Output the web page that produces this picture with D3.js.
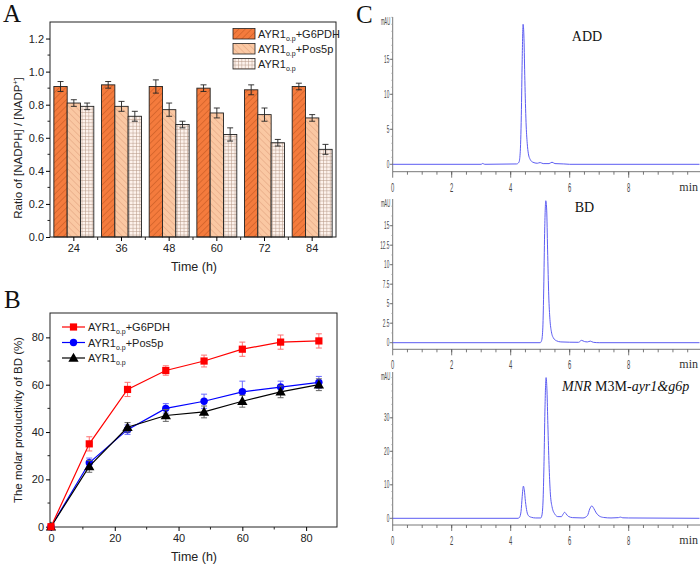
<!DOCTYPE html>
<html><head><meta charset="utf-8">
<script src="https://cdn.jsdelivr.net/npm/d3@7"></script>
<style>body{margin:0;background:#fff}svg{display:block}</style>
</head><body><svg id="c" width="700" height="566" font-family="Liberation Sans, Arial, sans-serif"></svg>
<script>
// ---------- Panel A data ----------
const timesA = ["24","36","48","60","72","84"];
const seriesA = ["G6PDH","Pos5p","AYR1"];
const ratioG6PDH = [0.91,0.92,0.91,0.90,0.89,0.91];
const errG6PDH   = [0.03,0.02,0.04,0.02,0.03,0.02];
const ratioPos5p = [0.81,0.79,0.77,0.75,0.74,0.72];
const errPos5p   = [0.02,0.03,0.04,0.03,0.04,0.02];
const ratioAYR1  = [0.79,0.73,0.68,0.62,0.57,0.53];
const errAYR1    = [0.02,0.03,0.02,0.04,0.02,0.03];
const yTicksA = [0,0.2,0.4,0.6,0.8,1.0,1.2];
const yMinorA = [0.1,0.3,0.5,0.7,0.9,1.1];
const legendA = ["+G6PDH","+Pos5p",""];

// ---------- Panel B data ----------
const timesB = [0,12,24,36,48,60,72,84];
const prodG6PDH = [0,35,58,66,70,75,78,78.5];
const prodErrG6PDH = [0,3,3,2,2.5,3,3,3];
const prodPos5p = [0,27,41,50,53,57,59,61];
const prodErrPos5p = [0,2,2,2,3,4.5,2.5,2.5];
const prodAYR1 = [0,25.5,42,47,48.5,53,57,60];
const prodErrAYR1 = [0,2.5,2,2.5,2.5,2.5,2.5,2.5];
const xTicksB = [0,20,40,60,80];
const xMinorB = [10,30,50,70];
const yTicksB = [0,20,40,60,80];
const yMinorB = [10,30,50,70];

// ---------- Panel C data (retention time min, mAU) ----------
const chromADD = [[0,0],[3.0,0],[3.05,0.12],[3.12,0],[4.2,0.05],[4.28,0.3],[4.32,1.5],[4.36,7],[4.39,15],[4.42,20],[4.45,18],[4.48,12],[4.52,6],[4.56,3],[4.6,1.5],[4.66,0.7],[4.75,0.3],[4.9,0.15],[5.0,0.25],[5.1,0.1],[5.3,0.1],[5.4,0.3],[5.5,0.1],[5.8,0.05],[6.0,0],[10.4,0]];
const chromBD = [[0,0],[5.0,0],[5.05,0.3],[5.09,2],[5.12,7],[5.15,14],[5.19,18.2],[5.22,17],[5.25,12],[5.29,6],[5.33,3],[5.38,1.4],[5.45,0.6],[5.55,0.25],[5.7,0.1],[6.3,0.05],[6.4,0.3],[6.5,0.15],[6.6,0.1],[6.7,0.2],[6.8,0.05],[7.0,0],[10.4,0]];
const chromMNR = [[0,0],[4.25,0],[4.3,0.3],[4.35,2],[4.39,6.5],[4.43,9.6],[4.46,8.5],[4.5,5],[4.55,2],[4.6,0.8],[4.7,0.3],[4.85,0.1],[5.02,0.1],[5.06,1],[5.1,6],[5.13,17],[5.16,32],[5.2,42],[5.23,38],[5.26,28],[5.3,16],[5.34,8],[5.4,3.5],[5.5,1.2],[5.6,0.5],[5.72,0.5],[5.78,1.3],[5.83,1.8],[5.88,1.3],[5.95,0.6],[6.1,0.2],[6.45,0.1],[6.6,0.8],[6.68,2.8],[6.75,3.7],[6.82,2.9],[6.9,1.6],[7.0,0.7],[7.15,0.25],[7.4,0.1],[7.65,0.2],[7.72,0.35],[7.8,0.15],[8.0,0.1],[10.4,0]];
const xTicksC = [0,2,4,6,8];
const yTicksC1 = [0,5,10,15];
const yTicksC2 = [0,2.5,5,7.5,10,12.5,15];
const yTicksC3 = [0,10,20,30];
const chromLabels = ["ADD","BD","MNR"];

const svg = d3.select("#c");
const defs = svg.append("defs");
const serif = "Liberation Serif, Times New Roman, serif";

function hatch(id,bg,stroke,angle,size,sw){
  const p = defs.append("pattern").attr("id",id).attr("patternUnits","userSpaceOnUse")
    .attr("width",size).attr("height",size).attr("patternTransform",`rotate(${angle})`);
  p.append("rect").attr("width",size).attr("height",size).attr("fill",bg);
  p.append("line").attr("x1",0).attr("y1",0).attr("x2",0).attr("y2",size).attr("stroke",stroke).attr("stroke-width",sw);
}
hatch("pG","#F47B3D","#B8501C",45,4.5,0.9);
hatch("pP","#FAC8A3","#D89470",-45,4.5,0.8);
(function(){
  const s=3.4;
  const p = defs.append("pattern").attr("id","pA").attr("patternUnits","userSpaceOnUse").attr("width",s).attr("height",s);
  p.append("rect").attr("width",s).attr("height",s).attr("fill","#FDF2EC");
  p.append("path").attr("d",`M0,0.3H${s}M0.3,0V${s}`).attr("stroke","#B89888").attr("stroke-width",0.6);
})();
const fillsA = ["url(#pG)","url(#pP)","url(#pA)"];

// ================= Panel A =================
const gA = svg.append("g");
const xA = d3.scaleBand().domain(timesA).range([50,336]);
const xAs = d3.scaleBand().domain(seriesA).range([0,xA.bandwidth()]).paddingOuter(0.29);
const yA = d3.scaleLinear().domain([0,1.3]).range([237,22]);
const valsA = [ratioG6PDH,ratioPos5p,ratioAYR1];
const errsA = [errG6PDH,errPos5p,errAYR1];

seriesA.forEach((s,si)=>{
  timesA.forEach((t,ti)=>{
    const v = valsA[si][ti], e = errsA[si][ti];
    const x0 = xA(t)+xAs(s), w = xAs.bandwidth();
    gA.append("rect").attr("x",x0).attr("y",yA(v)).attr("width",w).attr("height",yA(0)-yA(v))
      .attr("fill",fillsA[si]).attr("stroke","#222").attr("stroke-width",0.9);
    const cx = x0+w/2;
    gA.append("path").attr("d",`M${cx},${yA(v-e)}V${yA(v+e)}M${cx-3},${yA(v-e)}H${cx+3}M${cx-3},${yA(v+e)}H${cx+3}`)
      .attr("stroke","#222").attr("stroke-width",0.9).attr("fill","none");
  });
});
gA.append("rect").attr("x",50).attr("y",22).attr("width",286).attr("height",215).attr("fill","none").attr("stroke","#222").attr("stroke-width",1);
const axAy = gA.append("g").attr("transform","translate(50,0)")
  .call(d3.axisLeft(yA).tickValues(yTicksA).tickFormat(d3.format(".1f")).tickSize(4).tickPadding(2).tickSizeOuter(0));
axAy.select(".domain").remove();
axAy.selectAll("text").attr("font-size",11).attr("font-family","Liberation Sans, Arial").attr("fill","#222");
gA.selectAll(".minA").data(yMinorA).join("line").attr("x1",50).attr("x2",47.5).attr("y1",d=>yA(d)).attr("y2",d=>yA(d)).attr("stroke","#222");
const axAx = gA.append("g").attr("transform","translate(0,237)")
  .call(d3.axisBottom(xA).tickSize(4).tickPadding(3).tickSizeOuter(0));
axAx.select(".domain").remove();
axAx.selectAll("text").attr("font-size",11).attr("font-family","Liberation Sans, Arial").attr("fill","#222");
gA.selectAll(".minAx").data(timesA.slice(1)).join("line").attr("x1",d=>xA(d)).attr("x2",d=>xA(d)).attr("y1",237).attr("y2",240).attr("stroke","#222");
gA.append("text").attr("x",194).attr("y",271).attr("text-anchor","middle").attr("font-size",12.5).attr("fill","#222").text("Time (h)");
const ylA = gA.append("text").attr("transform","translate(22,148) rotate(-90)").attr("text-anchor","middle").attr("font-size",11.5).attr("fill","#222");
ylA.append("tspan").text("Ratio of [NADPH] / [NADP");
ylA.append("tspan").attr("font-size",7).attr("dy",-4).text("+");
ylA.append("tspan").attr("dy",4).text("]");
seriesA.forEach((s,i)=>{
  const yy = 28.5 + i*15;
  gA.append("rect").attr("x",233).attr("y",yy).attr("width",22).attr("height",10.5).attr("fill",fillsA[i]).attr("stroke","#222").attr("stroke-width",0.8);
  const t = gA.append("text").attr("x",258).attr("y",yy+9.5).attr("font-size",11).attr("fill","#222");
  t.append("tspan").text("AYR1");
  t.append("tspan").attr("font-size",7).attr("dy",3).text("o.p");
  t.append("tspan").attr("dy",-3).text(legendA[i]);
});
svg.append("text").attr("x",3).attr("y",22).attr("font-family",serif).attr("font-size",25).attr("fill","#111").text("A");

// ================= Panel B =================
const gB = svg.append("g");
const xB = d3.scaleLinear().domain([0,90]).range([51,338]);
const yB = d3.scaleLinear().domain([0,90]).range([526.7,313.7]);
gB.append("rect").attr("x",50).attr("y",313).attr("width",287).attr("height",214).attr("fill","none").attr("stroke","#222");
const axBy = gB.append("g").attr("transform","translate(50,0)")
  .call(d3.axisLeft(yB).tickValues(yTicksB).tickSize(4).tickPadding(2));
axBy.select(".domain").remove();
axBy.selectAll("text").attr("font-size",11).attr("font-family","Liberation Sans, Arial").attr("fill","#222");
gB.selectAll(".mby").data(yMinorB).join("line").attr("x1",50).attr("x2",47.5).attr("y1",d=>yB(d)).attr("y2",d=>yB(d)).attr("stroke","#222");
const axBx = gB.append("g").attr("transform","translate(0,527)")
  .call(d3.axisBottom(xB).tickValues(xTicksB).tickSize(4).tickPadding(3));
axBx.select(".domain").remove();
axBx.selectAll("text").attr("font-size",11).attr("font-family","Liberation Sans, Arial").attr("fill","#222");
gB.selectAll(".mbx").data(xMinorB).join("line").attr("x1",d=>xB(d)).attr("x2",d=>xB(d)).attr("y1",527).attr("y2",529.5).attr("stroke","#222");
gB.append("text").attr("x",194).attr("y",561).attr("text-anchor","middle").attr("font-size",12.5).attr("fill","#222").text("Time (h)");
gB.append("text").attr("transform","translate(22,420) rotate(-90)").attr("text-anchor","middle").attr("font-size",11.5).attr("fill","#222").text("The molar productivity of BD (%)");

const seriesB = [
  {v:prodPos5p,e:prodErrPos5p,c:"#0000FF",ec:"#6a6aff",m:"circle",lab:"+Pos5p",li:1},
  {v:prodAYR1,e:prodErrAYR1,c:"#000000",ec:"#666",m:"tri",lab:"",li:2},
  {v:prodG6PDH,e:prodErrG6PDH,c:"#FF0000",ec:"#ff7070",m:"square",lab:"+G6PDH",li:0}
];
const lineB = d3.line().x((d,i)=>xB(timesB[i])).y(d=>yB(d));
function marker(g,type,x,y,c){
  if(type==="square") g.append("rect").attr("x",x-3.6).attr("y",y-3.6).attr("width",7.2).attr("height",7.2).attr("fill",c);
  else if(type==="circle") g.append("circle").attr("cx",x).attr("cy",y).attr("r",3.7).attr("fill",c);
  else g.append("path").attr("d",d3.symbol(d3.symbolTriangle,46)()).attr("transform",`translate(${x},${y+0.8})`).attr("fill",c);
}
seriesB.forEach(s=>{
  s.v.forEach((v,i)=>{
    if(s.e[i]>0){
      const x=xB(timesB[i]);
      gB.append("path").attr("d",`M${x},${yB(v-s.e[i])}V${yB(v+s.e[i])}M${x-3},${yB(v-s.e[i])}H${x+3}M${x-3},${yB(v+s.e[i])}H${x+3}`)
        .attr("stroke",s.ec).attr("stroke-width",1).attr("fill","none");
    }
  });
  gB.append("path").attr("d",lineB(s.v)).attr("fill","none").attr("stroke",s.c).attr("stroke-width",1.2);
  s.v.forEach((v,i)=>marker(gB,s.m,xB(timesB[i]),yB(v),s.c));
  const yy = 327 + s.li*15.5;
  gB.append("line").attr("x1",62).attr("x2",85).attr("y1",yy).attr("y2",yy).attr("stroke",s.c).attr("stroke-width",1.2);
  marker(gB,s.m,73.5,yy,s.c);
  const t = gB.append("text").attr("x",88).attr("y",yy+4).attr("font-size",11).attr("fill","#222");
  t.append("tspan").text("AYR1");
  t.append("tspan").attr("font-size",7).attr("dy",3).text("o.p");
  t.append("tspan").attr("dy",-3).text(s.lab);
});
svg.append("text").attr("x",4).attr("y",308).attr("font-family",serif).attr("font-size",25).attr("fill","#111").text("B");

// ================= Panel C =================
svg.append("text").attr("x",356).attr("y",23).attr("font-family",serif).attr("font-size",25).attr("fill","#111").text("C");
const xC = d3.scaleLinear().domain([0,10.4]).range([392.7,699.5]);
const chromCfg = [
  {data:chromADD, dom:[0,20], rng:[164.3,24.3], ticks:yTicksC1, minor:1, top:17, axisY:171.7},
  {data:chromBD, dom:[0,15], rng:[342.7,225.7], ticks:yTicksC2, minor:1.25, top:199, axisY:349.3},
  {data:chromMNR, dom:[0,30], rng:[518.3,417.8], ticks:yTicksC3, minor:2, top:372, axisY:525}
];
const axColor = "#555";
chromCfg.forEach((cfg,ci)=>{
  const g = svg.append("g");
  const y = d3.scaleLinear().domain(cfg.dom).range(cfg.rng);
  const x0 = xC(0);
  g.append("line").attr("x1",x0).attr("x2",x0).attr("y1",cfg.top).attr("y2",cfg.axisY).attr("stroke",axColor).attr("stroke-width",0.8);
  const minors = d3.range(cfg.minor, (y.invert(cfg.top)), cfg.minor);
  g.selectAll(".ym").data(minors).join("line").attr("x1",x0-1.5).attr("x2",x0).attr("y1",d=>y(d)).attr("y2",d=>y(d)).attr("stroke","#999").attr("stroke-width",0.6);
  cfg.ticks.forEach(t=>{
    g.append("line").attr("x1",x0-3).attr("x2",x0).attr("y1",y(t)).attr("y2",y(t)).attr("stroke",axColor).attr("stroke-width",0.8);
    g.append("g").attr("transform",`translate(${x0-3.5},${y(t)+3.5})`)
      .append("text").attr("transform","scale(0.42,1)").attr("text-anchor","end").attr("font-size",11).attr("fill","#444").text(t);
  });
  g.append("g").attr("transform",`translate(${x0-2.5},${cfg.top+8})`)
    .append("text").attr("transform","scale(0.42,1)").attr("text-anchor","end").attr("font-size",10).attr("fill","#444").text("mAU");
  g.append("line").attr("x1",x0).attr("x2",700).attr("y1",cfg.axisY).attr("y2",cfg.axisY).attr("stroke",axColor).attr("stroke-width",0.8);
  const xm = d3.range(0.5,10.4,0.5);
  g.selectAll(".xm").data(xm).join("line").attr("x1",d=>xC(d)).attr("x2",d=>xC(d)).attr("y1",cfg.axisY).attr("y2",cfg.axisY+3).attr("stroke",axColor).attr("stroke-width",0.8);
  xTicksC.forEach(t=>{
    g.append("line").attr("x1",xC(t)).attr("x2",xC(t)).attr("y1",cfg.axisY).attr("y2",cfg.axisY+6).attr("stroke",axColor).attr("stroke-width",0.8);
    g.append("g").attr("transform",`translate(${xC(t)},${cfg.axisY+20})`)
      .append("text").attr("transform","scale(0.45,1)").attr("text-anchor","middle").attr("font-size",13).attr("fill","#444").text(t);
  });
  g.append("text").attr("x",698).attr("y",cfg.axisY+19).attr("text-anchor","end").attr("font-family",serif).attr("font-size",12).attr("fill","#333").text("min");
  const line = d3.line().x(d=>xC(d[0])).y(d=>y(d[1])).curve(d3.curveMonotoneX);
  g.append("path").attr("d",line(cfg.data)).attr("fill","none").attr("stroke","#5C5CF2").attr("stroke-width",1);
});
svg.append("text").attr("x",587).attr("y",40.5).attr("text-anchor","middle").attr("font-family",serif).attr("font-size",14).attr("fill","#111").text(chromLabels[0]);
svg.append("text").attr("x",584.5).attr("y",211.5).attr("text-anchor","middle").attr("font-family",serif).attr("font-size",14).attr("fill","#111").text(chromLabels[1]);
const mt = svg.append("text").attr("x",562).attr("y",390.5).attr("font-family",serif).attr("font-size",14).attr("fill","#111");
mt.append("tspan").attr("font-style","italic").text(chromLabels[2]);
mt.append("tspan").text(" M3M-");
mt.append("tspan").attr("font-style","italic").text("ayr1&g6p");
</script></body></html>
